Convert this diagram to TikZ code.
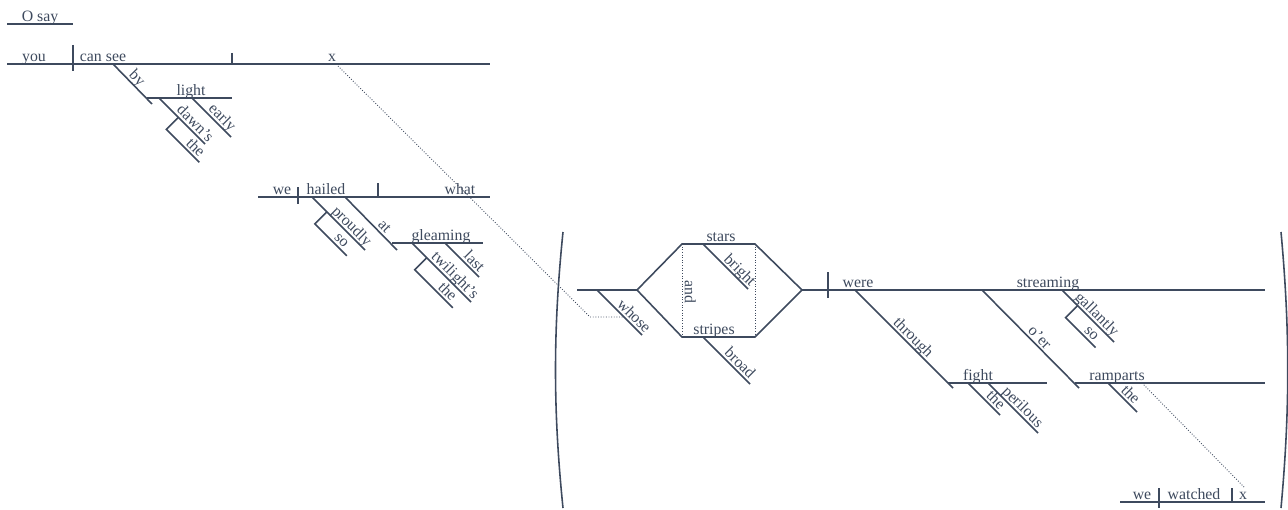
\documentclass[tikz,border=0pt]{standalone}
\usepackage{fontspec}
\setmainfont{Liberation Serif}
\usetikzlibrary{calc}
\definecolor{ink}{HTML}{3E4A5E}

\begin{document}
\begin{tikzpicture}[x=0.02cm, y=-0.02cm, line width=0.9pt, color=ink,
  word/.style={font=\fontsize{9}{10}\selectfont, inner sep=1.2pt,
    text height=1.5ex, text depth=0pt, above},
  slantword/.style={word, sloped},
  link/.style={densely dotted, line width=0.5pt},
%  bar/.style={line width=0.9pt}
  ]
  \useasboundingbox (0,0) rectangle (1288,510);

  % O say
  \coordinate (os1) at (7,24); \coordinate (os2) at (73,24);
  \draw (os1) -- node[word] (osay) {O say} (os2);

  % you can see x
  \coordinate (m1) at (7,64); \coordinate (m2) at (490,64);
  \draw (m1) -- (m2);
  \draw (73,45) -- (73,71);
  \draw (232,53) -- (232,64);
  \node[word] (you) at (34,64) {you};
  \node[word] (cansee) at (103,64) {can see};
  \node[word] (x1) at (332,64) {x};
  \coordinate (by1) at (113,64); \coordinate (by2) at (152,104);
  \draw (by1) -- node[slantword, pos=.48] (by) {by} (by2);
  \coordinate (li1) at (147,98); \coordinate (li2) at (232,98);
  \draw (li1) -- (li2);
  \node[word] (light) at (191,98) {light};
  \coordinate (da1) at (159,98); \coordinate (da2) at (205,144);
  \draw (da1) -- node[slantword, pos=.67] (dawns) {dawn's} (da2);
  \coordinate (ea1) at (192,98); \coordinate (ea2) at (231,137);
  \draw (ea1) -- node[slantword, pos=.64] (early) {early} (ea2);
  \coordinate (th1) at ($(da1)!.42!(da2)$);
  \draw (th1) -- ++(-12,12) -- node[slantword, pos=.72] (the1) {the} ++(33,33);

  % we hailed what
  \coordinate (w1) at (258,197); \coordinate (w2) at (490,197);
  \draw (w1) -- (w2);
  \draw (298,187) -- (298,204);
  \draw (378,183) -- (378,197);
  \node[word] (we1) at (282,197) {we};
  \node[word] (hailed) at (326,197) {hailed};
  \node[word] (what) at (460,197) {what};
  \coordinate (pr1) at (312,197); \coordinate (pr2) at (365,250);
  \draw (pr1) -- node[slantword, pos=.65] (proudly) {proudly} (pr2);
  \coordinate (so1) at ($(pr1)!.28!(pr2)$);
  \draw (so1) -- ++(-12,12) -- node[slantword, pos=.68] (so1w) {so} ++(32,32);
  \coordinate (at1) at (345,197); \coordinate (at2) at (397,250);
  \draw (at1) -- node[slantword, pos=.66] (at) {at} (at2);
  \coordinate (gl1) at (392,243); \coordinate (gl2) at (483,243);
  \draw (gl1) -- (gl2);
  \node[word] (gleaming) at (441,243) {gleaming};
  \coordinate (la1) at (445,243); \coordinate (la2) at (479,277);
  \draw (la1) -- node[slantword, pos=.7] (last) {last} (la2);
  \coordinate (tw1) at (412,243); \coordinate (tw2) at (471,302);
  \draw (tw1) -- node[slantword, pos=.64] (twilights) {twilight's} (tw2);
  \coordinate (th2) at ($(tw1)!.25!(tw2)$);
  \draw (th2) -- ++(-12,12) -- node[slantword, pos=.72] (the2) {the} ++(38,38);

  % link x -- whose
  \coordinate (lk1) at (338,66); \coordinate (lk2) at (590,317);
  \coordinate (lk3) at (624,317);
  \draw[link] (lk1) -- (lk2) -- (lk3);

  % brackets
  \draw (563,232) .. controls (553,330) and (553,410) .. (563,508);
  \draw (1281,232) .. controls (1290,330) and (1290,410) .. (1281,508);

  % whose stars and stripes
  \coordinate (L) at (637,290); \coordinate (TL) at (682,244);
  \coordinate (TR) at (755,244); \coordinate (R) at (802,290);
  \coordinate (BR) at (755,337); \coordinate (BL) at (682,337);
  \coordinate (ws1) at (577,290);
  \draw (ws1) -- (L) -- (TL) -- (TR) -- (R) -- (BR) -- (BL) -- (L);
  \draw[link] (TL) -- (BL);
  \draw[link] (TR) -- (BR);
  \node[word, rotate=-90] (and) at (682,292) {and};
  \node[word] (stars) at (721,244) {stars};
  \node[word] (stripes) at (714,337) {stripes};
  \coordinate (wh1) at (597,290); \coordinate (wh2) at (642,335);
  \draw (wh1) -- node[slantword, pos=.7] (whose) {whose} (wh2);
  \coordinate (br1) at (703,244); \coordinate (br2) at (748,289);
  \draw (br1) -- node[slantword, pos=.7] (bright) {bright} (br2);
  \coordinate (bd1) at (703,337); \coordinate (bd2) at (750,384);
  \draw (bd1) -- node[slantword, pos=.67] (broad) {broad} (bd2);

  % were streaming
  \coordinate (s2) at (1265,290);
  \draw (R) -- (s2);
  \draw (828,272) -- (828,298);
  \node[word] (were) at (858,290) {were};
  \node[word] (streaming) at (1048,290) {streaming};
  \coordinate (ga1) at (1062,290); \coordinate (ga2) at (1114,342);
  \draw (ga1) -- node[slantword, pos=.57] (gallantly) {gallantly} (ga2);
  \coordinate (so2) at ($(ga1)!.3!(ga2)$);
  \draw (so2) -- ++(-12,12) -- node[slantword, pos=.7] (so2w) {so} ++(30,30);
  \coordinate (tg1) at (855,290); \coordinate (tg2) at (953,388);
  \draw (tg1) -- node[slantword, pos=.54] (through) {through} (tg2);
  \coordinate (fi1) at (948,383); \coordinate (fi2) at (1047,383);
  \draw (fi1) -- (fi2);
  \node[word] (fight) at (978,383) {fight};
  \coordinate (th3) at (968,383); \coordinate (th3b) at (1000,415);
  \draw (th3) -- node[slantword, pos=.7] (the3) {the} (th3b);
  \coordinate (pe1) at (988,383); \coordinate (pe2) at (1038,433);
  \draw (pe1) -- node[slantword, pos=.59] (perilous) {perilous} (pe2);
  \coordinate (oe1) at (982,290); \coordinate (oe2) at (1079,388);
  \draw (oe1) -- node[slantword, pos=.54] (oer) {o'er} (oe2);
  \coordinate (ra1) at (1075,383); \coordinate (ra2) at (1265,383);
  \draw (ra1) -- (ra2);
  \node[word] (ramparts) at (1117,383) {ramparts};
  \coordinate (th4) at (1108,383); \coordinate (th4b) at (1137,412);
  \draw (th4) -- node[slantword, pos=.59] (the4) {the} (th4b);

  % we watched x
  \coordinate (b1) at (1120,502); \coordinate (b2) at (1265,502);
  \draw (b1) -- (b2);
  \draw (1159,488) -- (1159,508);
  \draw (1232,488) -- (1232,502);
  \node[word] (we2) at (1142,502) {we};
  \node[word] (watched) at (1194,502) {watched};
  \node[word] (x2) at (1243,502) {x};
  \coordinate (lk4) at (1142,383); \coordinate (lk5) at (1245,488);
  \draw[link] (lk4) -- (lk5);
\end{tikzpicture}
\end{document}
